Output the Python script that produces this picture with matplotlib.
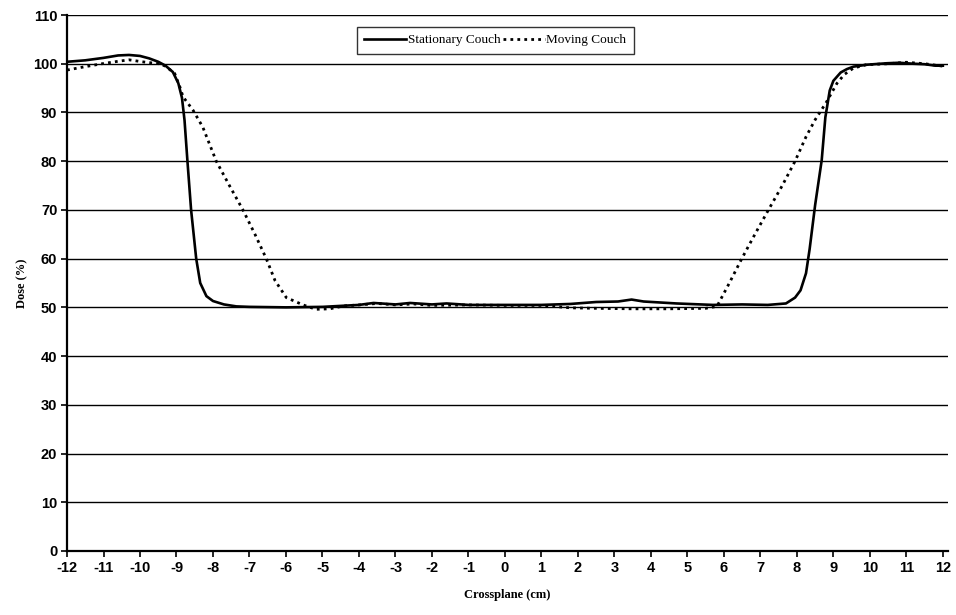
import numpy as np
import matplotlib.pyplot as plt

# data
stat_x = [-12, -11.5, -11.0, -10.6, -10.3, -10.0, -9.75, -9.5, -9.3, -9.1,
          -8.95, -8.85, -8.78, -8.7, -8.6, -8.46, -8.35, -8.18, -8.0, -7.7,
          -7.36, -7.0, -6.0, -5.0, -4.5, -4.0, -3.6, -3.0, -2.6, -2.0,
          -1.6, -1.0, 0.0, 1.0, 1.8, 2.5, 3.1, 3.47, 3.8, 4.7,
          5.7, 6.5, 7.2, 7.7, 7.95, 8.1, 8.25, 8.35, 8.5, 8.68,
          8.78, 8.9, 9.0, 9.2, 9.37, 9.55, 9.92, 10.47, 10.8, 11.2,
          11.5, 11.8, 12]
stat_y = [100.4, 100.7, 101.2, 101.7, 101.8, 101.6, 101.1, 100.4, 99.6, 98.3,
          96.0, 93.0, 88.4, 80.0, 70.0, 60.0, 55.0, 52.3, 51.3, 50.6,
          50.2, 50.1, 50.0, 50.1, 50.3, 50.5, 50.9, 50.6, 50.9, 50.6,
          50.8, 50.5, 50.5, 50.5, 50.7, 51.1, 51.2, 51.6, 51.2, 50.8,
          50.5, 50.6, 50.5, 50.8, 52.0, 53.5, 57.0, 62.0, 71.0, 80.2,
          89.0, 94.5, 96.5, 98.2, 98.9, 99.4, 99.8, 100.1, 100.2, 100.0,
          99.9, 99.6, 99.6]

mov_x = [-12, -11.5, -11.04, -10.6, -10.3, -9.94, -9.48, -9.3, -9.05, -8.91,
         -8.82, -8.55, -8.28, -7.91, -7.55, -7.18, -6.85, -6.54, -6.3, -5.99,
         -5.53, -5.18, -4.8, -4.41, -4.0, -3.5, -3.0, -2.5, -2.0, -1.0,
         0.0, 1.0, 1.8, 2.5, 3.5, 4.5, 5.5, 5.81, 6.15, 6.49,
         6.85, 7.22, 7.6, 7.95, 8.25, 8.5, 8.8, 9.1, 9.3, 9.55,
         9.9, 10.5, 11.0, 11.5, 12]
mov_y = [98.7, 99.4, 100.0, 100.5, 100.8, 100.4, 100.0, 99.5, 98.0, 95.3,
         93.2, 90.5, 87.0, 80.0, 75.0, 70.0, 65.0, 60.0, 55.5, 52.0,
         50.5, 49.6, 49.7, 50.3, 50.5, 50.8, 50.5, 50.7, 50.4, 50.5,
         50.4, 50.4, 49.9, 49.8, 49.7, 49.7, 49.8, 50.2, 55.0, 60.0,
         65.0, 70.0, 75.0, 80.0, 85.0, 88.5, 92.0, 96.0, 97.8, 99.1,
         99.8, 100.0, 100.3, 100.0, 99.5]

x_ticks = np.arange(-12, 13, 1)
y_ticks = np.arange(0, 111, 10)

fig = plt.figure(figsize=(9.56, 6.15), dpi=100)
ax = fig.add_axes([0.0701, 0.1041, 0.9215, 0.8715])

ax.plot(stat_x, stat_y, color="black", lw=1.9, label="Stationary Couch")
ax.plot(mov_x, mov_y, color="black", lw=2.0, linestyle=(0, (1.0, 1.5)),
        label="Moving Couch")

ax.set_xlim(-12, 12.14)
ax.set_ylim(0, 110)
ax.set_xticks(x_ticks)
ax.set_xticklabels([str(v) for v in x_ticks])
ax.set_yticks(y_ticks)
# horizontal gridlines, the one at 110 acts as the top border
for v in y_ticks[1:]:
    ax.axhline(v, color="black", lw=1.0, zorder=0)

for s in ["top", "right"]:
    ax.spines[s].set_visible(False)
ax.spines["left"].set_linewidth(1.6)
ax.spines["bottom"].set_linewidth(1.6)
ax.tick_params(axis="both", direction="out", length=4, width=1.2,
               labelsize=10.5, pad=3)
for lab in ax.get_xticklabels() + ax.get_yticklabels():
    lab.set_family("Liberation Sans")
    lab.set_fontweight("bold")

ax.set_xlabel("Crossplane (cm)", family="Liberation Serif", fontweight="bold",
              fontsize=9, labelpad=10)
ax.set_ylabel("Dose (%)", family="Liberation Serif", fontweight="bold",
              fontsize=9, labelpad=3)

leg = ax.legend(loc="upper center", bbox_to_anchor=(0.486, 0.978), ncol=2,
                frameon=True, fancybox=False, edgecolor="black",
                prop={"family": "Liberation Serif", "size": 9.5},
                handlelength=3.2, handletextpad=0.1, columnspacing=0.2,
                borderpad=0.55, borderaxespad=0)
leg.get_frame().set_linewidth(1.0)

fig.savefig("out.png", dpi=100)
